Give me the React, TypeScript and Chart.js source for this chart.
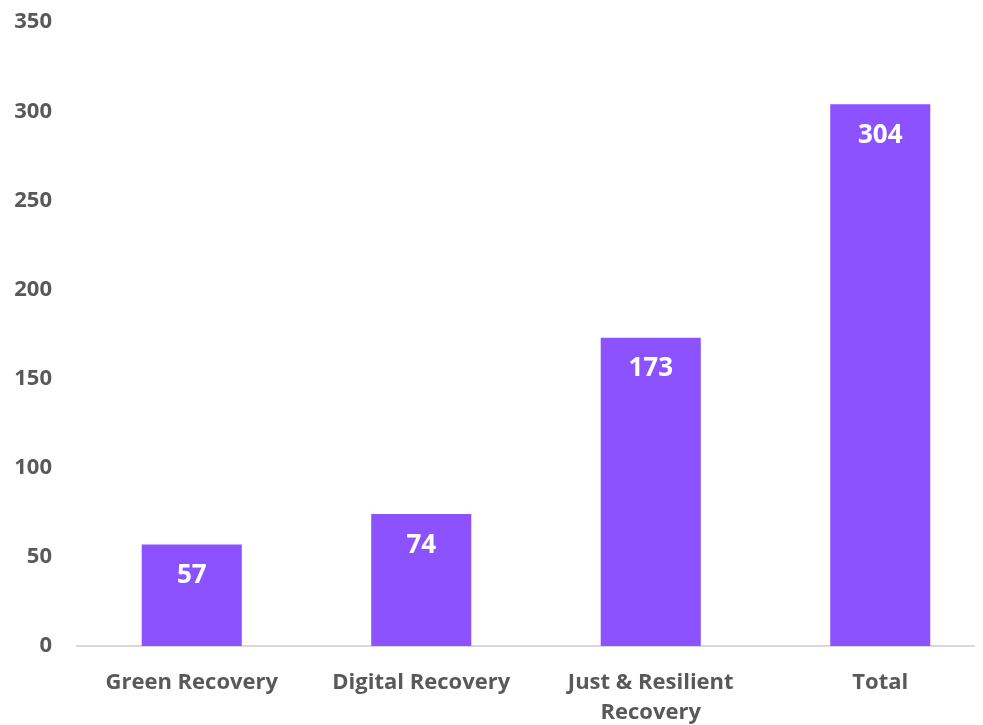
import React, { useEffect, useRef } from "react";
import { Chart, registerables } from "chart.js";

Chart.register(...registerables);

const categories: (string | string[])[] = [
  "Green Recovery",
  "Digital Recovery",
  ["Just & Resilient", "Recovery"],
  "Total",
];
const values: number[] = [57, 74, 173, 304];
const yMin = 0;
const yMax = 350;
const yStep = 50;

const FONT = "'Open Sans', 'Liberation Sans', sans-serif";
const TEXT = "#595959";
const BAR = "#8C52FF";

const labelPlugin = {
  id: "innerLabels",
  afterDatasetsDraw(chart: any) {
    const ctx = chart.ctx;
    const meta = chart.getDatasetMeta(0);
    ctx.save();
    ctx.font = `bold 26px ${FONT}`;
    ctx.fillStyle = "#FFFFFF";
    ctx.textAlign = "center";
    ctx.textBaseline = "middle";
    meta.data.forEach((bar: any, i: number) => {
      ctx.fillText(String(values[i]), bar.x, bar.y + 31);
    });
    ctx.restore();
  },
};

export default function App() {
  const ref = useRef<HTMLCanvasElement>(null);
  useEffect(() => {
    if (!ref.current) return;
    const chart = new Chart(ref.current, {
      type: "bar",
      data: {
        labels: categories,
        datasets: [
          {
            data: values,
            backgroundColor: BAR,
            borderWidth: 0,
            barPercentage: 0.436,
            categoryPercentage: 1,
          },
        ],
      },
      options: {
        animation: false,
        responsive: false,
        maintainAspectRatio: false,
        layout: { padding: { top: 0, right: 3, bottom: 0, left: 0 } },
        plugins: {
          legend: { display: false },
          tooltip: { enabled: false },
        },
        scales: {
          x: {
            grid: { display: false, drawTicks: false },
            border: { display: true, color: "#D9D9D9", width: 2 },
            ticks: {
              color: TEXT,
              font: { family: FONT, size: 22, weight: "bold", lineHeight: 1.4 },
              padding: 21,
              maxRotation: 0,
              autoSkip: false,
            },
            afterFit(scale: any) {
              scale.height = 79;
            },
          },
          y: {
            min: yMin,
            max: yMax,
            grid: { display: false, drawTicks: false },
            border: { display: false },
            ticks: {
              stepSize: yStep,
              color: TEXT,
              font: { family: FONT, size: 22, weight: "bold" },
              padding: 25,
            },
            afterFit(scale: any) {
              scale.width = 69;
            },
          },
        },
      },
      plugins: [labelPlugin],
    });
    return () => chart.destroy();
  }, []);
  return (
    <div style={{ width: 975, height: 717, overflow: "hidden", position: "relative" }}>
      <canvas
        ref={ref}
        width={990}
        height={741}
        style={{ width: 990, height: 741, display: "block", position: "absolute", left: 0, top: -24 }}
      />
    </div>
  );
}
